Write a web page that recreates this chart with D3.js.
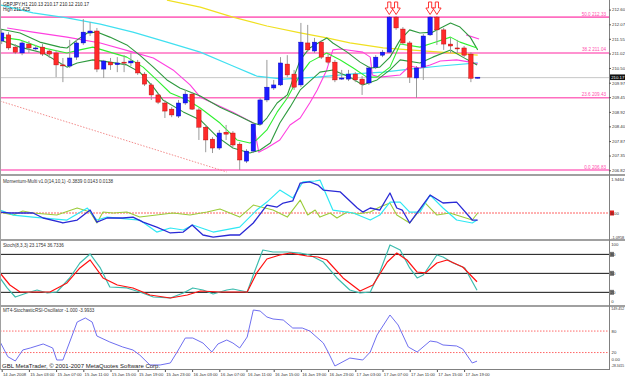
<!DOCTYPE html>
<html>
<head>
<meta charset="utf-8">
<script src="https://cdn.jsdelivr.net/npm/d3@7"></script>
<style>
  body { margin: 0; background: #fff; }
  svg { display: block; }
  text { font-family: "Liberation Sans", Arial, sans-serif; }
</style>
</head>
<body>
<svg id="chart"></svg>
<script>
// GBPJPY H1, bars from 14 Jan 23:00 to 17 Jan 21:00
const timeTickIdx = [0, 4, 8, 12, 16, 20, 24, 28, 32, 36, 40, 44, 48, 52, 56, 60, 64, 68];
const timeLabels = ["14 Jan 2008", "15 Jan 03:00", "15 Jan 07:00", "15 Jan 11:00", "15 Jan 15:00", "15 Jan 19:00",
  "15 Jan 23:00", "16 Jan 03:00", "16 Jan 07:00", "16 Jan 11:00", "16 Jan 15:00", "16 Jan 19:00",
  "16 Jan 23:00", "17 Jan 03:00", "17 Jan 07:00", "17 Jan 11:00", "17 Jan 15:00", "17 Jan 19:00"];

const open = [211.47,211.69,211.25,211.04,211.36,211.20,211.25,211.11,211.04,210.61,
  210.57,210.89,211.40,211.76,211.83,210.46,210.71,210.62,210.71,210.68,
  210.71,210.28,209.89,209.53,209.24,209.02,208.77,209.24,209.56,208.99,
  208.37,207.94,207.62,208.19,208.16,207.76,207.15,207.51,208.48,209.35,
  209.78,209.89,210.64,210.28,209.89,211.40,211.11,211.43,210.89,210.71,
  210.10,210.10,210.28,210.10,209.96,210.53,210.96,211.07,212.33,211.90,
  211.40,210.14,210.53,211.69,212.33,211.87,211.36,211.22,211.22,211.00,
  210.13];
const high = [211.87,211.79,211.36,211.47,211.47,211.33,211.36,211.18,211.15,210.86,
  211.51,211.51,212.26,212.15,211.94,210.79,210.86,210.89,210.96,211.04,
  210.79,210.35,209.96,209.60,209.35,209.09,209.35,209.71,209.63,209.06,
  208.45,208.01,208.27,208.45,208.23,207.83,207.58,208.55,209.42,210.79,
  210.07,210.89,210.96,210.43,212.12,212.05,211.58,211.51,211.00,210.79,
  210.43,210.43,210.35,210.21,210.57,210.96,211.15,212.37,212.37,211.97,
  211.47,210.57,211.72,212.37,212.37,211.94,211.58,211.51,211.29,211.07,
  210.17];
const low = [211.36,211.15,211.00,210.96,211.04,211.11,210.93,210.86,210.17,209.99,
  210.50,210.79,211.33,211.65,210.35,210.14,210.43,210.35,210.35,210.57,
  210.25,209.85,209.35,209.20,208.70,208.73,208.70,209.17,208.99,207.91,
  207.47,207.44,207.55,207.91,207.65,206.83,207.08,207.44,208.45,209.27,
  209.71,209.85,210.17,209.71,209.81,211.07,211.04,210.82,210.64,209.99,
  210.07,210.03,209.99,209.53,209.89,210.46,210.89,211.04,211.87,211.33,
  209.96,209.42,210.07,211.65,211.33,211.15,211.04,211.04,210.89,209.99,
  210.12];
const close = [211.76,211.22,211.07,211.40,211.22,211.22,211.00,211.00,210.61,210.59,
  210.86,211.40,211.79,211.83,210.46,210.75,210.61,210.68,210.70,210.75,
  210.32,209.92,209.53,209.27,208.95,208.81,209.24,209.56,209.02,208.37,
  207.91,207.62,208.16,208.12,207.73,207.19,207.51,208.48,209.35,209.81,
  209.89,210.68,210.25,209.81,211.43,211.15,211.43,210.89,210.71,210.07,
  210.14,210.28,210.07,209.92,210.50,210.89,211.07,212.33,211.94,211.40,
  210.17,210.50,211.65,212.33,211.87,211.36,211.29,211.20,210.96,210.13,
  210.17];

// moving averages / bands, [bar index, price]
const maYellow = [[24.3,212.94],[29.2,212.69],[34.0,212.33],[39.0,212.01],[43.9,211.76],[47.8,211.58],
  [51.2,211.40],[56.1,211.22],[60.0,211.15],[64.5,211.07],[70.0,210.96]];
const maCyan = [[-0.25,212.77],[4.6,212.48],[9.6,212.30],[14.5,212.08],[19.3,211.79],[24.3,211.43],
  [29.2,211.07],[34.0,210.57],[37.5,210.21],[41.4,210.10],[46.4,210.17],[51.2,210.28],[56.1,210.35],
  [60.0,210.46],[64.5,210.57],[70.0,210.68]];
const bandUpper = [[-0.25,211.90],[2.7,211.76],[5.6,211.43],[8.6,211.25],[9.6,211.22],[11.1,211.51],[12.6,211.76],
  [14.0,211.79],[15.9,211.61],[18.4,211.33],[20.3,210.96],[22.3,210.53],[24.3,210.07],[26.2,209.78],
  [29.2,209.49],[32.1,209.09],[34.6,208.81],[37.0,208.52],[38.0,208.45],[39.0,208.70],[40.5,209.24],
  [42.0,209.53],[42.8,210.07],[43.9,210.79],[45.3,211.22],[47.8,211.58],[48.7,211.40],[50.8,211.07],
  [52.7,210.71],[54.2,210.50],[55.6,210.53],[57.1,210.89],[58.6,211.51],[60.0,211.87],[61.5,211.76],
  [63.4,211.79],[66.0,212.12],[67.4,211.97],[68.9,211.61],[70.0,211.15]];
const bandMid = [[-0.25,211.61],[2.7,211.51],[5.6,211.25],[9.6,211.04],[11.5,211.15],[13.4,211.25],[15.9,211.07],
  [18.4,210.89],[20.8,210.53],[22.8,210.07],[24.8,209.60],[27.3,209.35],[29.2,209.06],[32.1,208.52],
  [34.6,207.91],[36.5,207.80],[37.5,207.91],[39.0,208.27],[40.5,208.91],[42.0,209.42],[42.8,209.78],
  [43.9,210.25],[45.3,210.71],[47.8,211.04],[49.8,210.79],[51.7,210.50],[53.7,210.17],[55.2,210.17],
  [57.1,210.53],[58.6,211.36],[61.5,211.25],[63.4,211.40],[66.0,211.61],[67.4,211.43],[69.9,211.22]];
const bandLower = [[-0.25,211.51],[2.7,211.25],[6.1,211.04],[9.6,210.53],[11.1,210.68],[13.4,210.79],[15.9,210.71],
  [18.4,210.61],[20.3,210.35],[22.3,209.81],[23.7,209.35],[26.7,208.92],[29.2,208.63],[31.7,208.02],
  [34.0,207.62],[36.5,207.44],[38.0,207.55],[39.5,207.80],[40.9,208.52],[42.4,209.09],[43.9,209.71],
  [46.8,210.35],[48.7,210.43],[51.2,210.17],[53.1,209.89],[55.2,210.07],[57.1,210.43],[58.6,210.79],
  [61.5,210.68],[63.4,210.89],[66.0,211.15],[67.8,210.89],[69.9,210.61]];
const stopLine = [[0.8,211.94],[4.6,211.79],[9.6,211.61],[14.5,211.40],[19.3,211.07],[22.3,210.86],[25.2,210.43],
  [27.7,209.89],[29.2,209.45],[34.0,208.91],[37.0,208.52],[37.8,207.47],[39.0,207.62],[40.9,207.91],
  [42.4,208.45],[43.9,208.70],[45.3,209.24],[46.4,209.71],[47.8,210.43],[48.7,211.15],[49.8,211.18],
  [53.1,211.07],[54.2,210.89],[54.5,210.25],[55.6,210.17],[58.6,210.25],[60.0,210.57],[61.5,210.50],
  [63.0,210.61],[64.5,210.75],[66.9,210.79],[68.9,210.71],[70.0,210.64]];
const stopLine2 = [[68.3,211.69],[70.2,211.54]];
const trendLine = [[-0.25,209.31],[33.1,206.76]];

const fibLevels = [50.0, 38.2, 23.6, 0.0];
const fibPrices = [212.33, 211.04, 209.43, 206.83];
const arrowBars = [57, 58, 63, 64];
const priceTicks = [206.82, 207.35, 207.87, 208.40, 208.92, 209.45, 209.97, 210.50, 211.02, 211.55, 212.07, 212.60];
const lastPrice = 210.17;

// Momentum-Multi
const momBlue = [[-0.25,0.05],[1.2,0],[2.7,0],[4.6,0],[6.1,-0.27],[8.6,-0.49],[9.0,-0.54],[11.1,-0.38],[13.0,0.16],
  [14.0,-0.49],[15.5,-0.27],[17.8,-0.27],[19.3,-0.22],[20.8,-0.49],[22.8,-0.76],[24.8,-1.08],[26.7,-1.03],
  [28.0,-0.65],[29.6,-1.19],[31.1,-1.30],[33.6,-1.19],[35.0,-1.19],[37.0,-0.54],[39.0,0.43],[40.5,0.32],
  [41.4,0.54],[42.8,0.65],[43.9,1.62],[45.3,1.68],[46.5,1.51],[47.3,1.24],[49.8,1.14],[52.3,0.27],[53.1,0.05],
  [54.2,0.27],[55.6,0.16],[57.1,1.08],[58.1,0.27],[58.9,0.16],[60.0,-0.54],[63.0,0.97],[64.9,0.54],[66.9,0.59],
  [69.2,-0.38],[70.0,-0.38]];
const momCyan = [[-0.25,0.16],[1.7,-0.11],[4.6,-0.22],[9.6,-0.38],[12.6,0.27],[14.0,-0.38],[15.5,-0.22],[20.3,-0.38],
  [22.8,-1.03],[24.8,-0.81],[26.7,-0.92],[28.1,-0.65],[31.1,-1.03],[35.0,-0.76],[37.5,0.16],[39.0,0.59],
  [40.9,1.24],[42.8,0.81],[44.3,1.68],[46.1,1.73],[46.8,1.78],[48.7,0.16],[51.7,0],[54.2,-0.38],[55.6,-0.11],
  [57.1,0.59],[58.6,0.59],[60.0,0.05],[61.5,0.05],[63.0,0.97],[64.9,0.27],[66.9,-0.38],[69.2,-0.54],[69.9,-0.38]];
const momGreen = [[-0.25,0.05],[1.7,-0.11],[3.1,0.11],[4.6,0],[8.1,-0.11],[11.1,0.27],[13.0,0.05],[14.0,-0.54],
  [14.9,0.05],[16.4,0],[18.4,0.05],[20.3,-0.22],[25.2,0],[27.7,-0.11],[30.2,0.05],[32.1,0.22],[35.0,-0.22],
  [37.0,0.43],[39.9,0.16],[42.0,-0.22],[43.9,0.70],[45.0,-0.11],[46.1,0.16],[46.8,-0.22],[48.3,0],[49.3,-0.27],
  [50.8,0.05],[52.3,-0.05],[54.2,0.05],[55.6,0.32],[57.1,0.54],[58.1,-0.11],[60.0,-0.54],[62.3,0.54],
  [64.0,-0.11],[65.9,0],[67.8,-0.22],[69.2,-0.38],[70.0,0]];

// Stochastic (8,3,3)
const stochMain = [[-0.25,42.7],[0.8,26.9],[2.0,12.6],[3.7,19.0],[5.2,23.7],[6.7,19.0],[8.1,20.5],[10.0,42.7],
  [11.5,66.4],[13.0,80.6],[14.5,58.5],[15.9,28.4],[18.4,26.9],[20.3,20.5],[22.3,12.6],[24.8,11.1],[26.7,19.0],
  [28.1,26.9],[29.6,23.7],[31.1,17.4],[33.1,23.7],[34.0,25.3],[36.1,20.5],[37.0,47.4],[38.4,86.9],[39.9,83.7],
  [42.0,83.7],[43.9,82.1],[45.3,79.0],[47.3,67.9],[49.3,42.7],[51.2,23.7],[52.7,19.0],[54.2,20.5],[55.6,52.1],
  [57.1,94.8],[58.6,86.9],[60.0,58.5],[61.1,42.7],[62.0,47.4],[64.0,79.0],[64.9,75.8],[66.4,66.4],[68.1,58.5],
  [69.9,23.2]];
const stochSignal = [[-0.25,50.6],[1.2,31.6],[2.7,20.5],[4.6,20.5],[7.1,20.5],[9.6,34.8],[11.5,58.5],[13.0,71.1],
  [14.9,42.7],[17.0,31.6],[19.3,26.9],[21.8,15.8],[24.8,11.1],[27.3,15.8],[29.2,22.1],[32.1,20.5],[36.1,20.5],
  [37.5,50.6],[39.0,72.7],[40.9,79.0],[42.4,82.1],[44.9,77.4],[46.5,75.8],[47.8,71.1],[50.2,42.7],[52.7,22.1],
  [54.6,31.6],[56.7,67.9],[58.1,82.1],[59.6,71.1],[61.1,52.1],[62.3,50.6],[64.0,66.4],[65.5,71.1],[67.8,60.0],
  [69.9,36.7]];
const stochLevels = [80, 50, 20];

// MT4-StochasticRSI-Oscillator
const oscLine = [[-0.25,50.3],[0.9,8.4],[2.0,-3.6],[3.1,27.1],[4.2,32.7],[6.1,43.9],[7.5,32.7],[8.1,-0.8],[9.0,-0.8],
  [10.0,49.4],[11.1,105.3],[12.3,116.5],[13.3,105.3],[14.0,66.2],[15.9,49.4],[17.8,35.5],[19.3,27.1],[20.3,13.1],
  [21.8,-14.8],[23.3,-14.8],[24.8,-9.2],[25.8,21.5],[27.0,60.6],[28.1,60.6],[29.6,46.6],[30.9,21.5],[31.8,43.9],
  [33.1,55.0],[34.0,46.6],[35.0,32.7],[36.1,63.4],[37.0,138.8],[38.0,136.0],[39.0,119.3],[39.9,113.7],[41.4,110.9],
  [42.8,88.5],[44.2,88.5],[45.3,80.2],[47.3,46.6],[48.0,21.5],[49.0,-17.6],[51.2,4.7],[53.1,-0.8],[54.2,21.5],
  [55.2,69.0],[57.1,124.9],[58.3,96.9],[59.8,35.5],[61.1,21.5],[63.0,52.2],[64.0,49.4],[64.9,41.1],[66.9,38.3],
  [67.8,29.9],[69.2,-9.2],[69.9,-4.0]];
const oscLevels = [80, 20];

const W = 625, H = 377, axisX = 609;
const svg = d3.select("#chart").attr("width", W).attr("height", H);

const x = d3.scaleLinear().domain([0, 70]).range([1.7, 477.7]);
const yMain = d3.scaleLinear().domain([206.83, 212.945]).range([170, 0]);
const yMom = d3.scaleLinear().domain([0, 1.9464]).range([213, 177]);
const yStoch = d3.scaleLinear().domain([0, 100]).range([305, 241.7]);
const yOsc = d3.scaleLinear().domain([0, 80]).range([359.7, 331.06]);

const panels = [[0, 175], [176, 240], [241, 306], [307, 369]];
const defs = svg.append("defs");
panels.forEach((p, i) => {
  defs.append("clipPath").attr("id", "clip" + i)
    .append("rect").attr("x", 0).attr("y", p[0]).attr("width", axisX).attr("height", p[1] - p[0]);
});

const lineOf = (ys) => d3.line().x(d => x(d[0])).y(d => ys(d[1]));
function drawLine(g, data, ys, color, w, dash) {
  g.append("path").datum(data)
    .attr("d", lineOf(ys))
    .attr("fill", "none")
    .attr("stroke", color)
    .attr("stroke-width", w)
    .attr("stroke-dasharray", dash || null)
    .attr("stroke-linejoin", "round");
}

// shrink the font of a label until it ends before the right edge
function fitRight(sel, maxW) {
  sel.each(function () {
    const t = d3.select(this);
    const fs = +t.attr("font-size");
    const len = this.getComputedTextLength();
    if (len > maxW) t.attr("font-size", (fs * maxW / len).toFixed(2));
  });
}

// ---- main panel
const main = svg.append("g").attr("clip-path", "url(#clip0)");

// fibo levels
fibPrices.forEach((p, i) => {
  main.append("line").attr("x1", 0).attr("x2", axisX)
    .attr("y1", yMain(p)).attr("y2", yMain(p))
    .attr("stroke", "#ff6ec0").attr("stroke-width", 1.6);
  main.append("text").attr("x", 606).attr("y", yMain(p) - 1.5)
    .attr("text-anchor", "end").attr("font-size", 4.6).attr("fill", "#ff4fb0")
    .text(fibLevels[i].toFixed(1) + " " + p.toFixed(2));
});

// bid line
main.append("line").attr("x1", 0).attr("x2", axisX)
  .attr("y1", yMain(lastPrice) + 0.5).attr("y2", yMain(lastPrice) + 0.5)
  .attr("stroke", "#b8b8b8").attr("stroke-width", 0.8);

drawLine(main, trendLine, yMain, "#f08080", 0.9, "1.5,1.5");
drawLine(main, maYellow, yMain, "#f0e020", 1.2);
drawLine(main, maCyan, yMain, "#40e0f0", 1.2);
drawLine(main, stopLine, yMain, "#ff40e0", 1.1);
drawLine(main, stopLine2, yMain, "#ff40e0", 1.1);
drawLine(main, bandUpper, yMain, "#2e9a3e", 1.1);
drawLine(main, bandMid, yMain, "#30f030", 1.1);
drawLine(main, bandLower, yMain, "#2e9a3e", 1.1);

// candles
const bars = d3.range(open.length);
main.append("g").selectAll("line").data(bars).join("line")
  .attr("x1", i => x(i)).attr("x2", i => x(i))
  .attr("y1", i => yMain(high[i])).attr("y2", i => yMain(low[i]))
  .attr("stroke", "#9a9a9a").attr("stroke-width", 1);
main.append("g").selectAll("rect").data(bars).join("rect")
  .attr("x", i => x(i) - 2.2)
  .attr("width", 4.4)
  .attr("y", i => yMain(Math.max(open[i], close[i])))
  .attr("height", i => Math.max(1, Math.abs(yMain(open[i]) - yMain(close[i]))))
  .attr("fill", i => close[i] > open[i] ? "#1a1aff" : close[i] < open[i] ? "#ff2a2a" : "#888")
  .attr("stroke", i => close[i] > open[i] ? "#0000b0" : close[i] < open[i] ? "#b00000" : "#888")
  .attr("stroke-width", 0.4);

// fractal arrows
const arrow = "M-1.6,0 L1.6,0 L1.6,6 L4.2,6 L0,12.5 L-4.2,6 L-1.6,6 Z";
main.append("g").selectAll("path").data(arrowBars).join("path")
  .attr("d", arrow)
  .attr("transform", i => `translate(${x(i)},${yMain(high[i]) - 14})`)
  .attr("fill", "#fff").attr("stroke", "#ff2020").attr("stroke-width", 0.9);

svg.append("text").attr("x", 3).attr("y", 5.5).attr("font-size", 4.6).attr("fill", "#222")
  .text("GBPJPY,H1 210.13 210.17 210.12 210.17");
svg.append("text").attr("x", 3).attr("y", 10.5).attr("font-size", 4.6).attr("fill", "#222")
  .text("High 211.425");

// ---- momentum
const mom = svg.append("g").attr("clip-path", "url(#clip1)");
mom.append("line").attr("x1", 0).attr("x2", axisX).attr("y1", yMom(0)).attr("y2", yMom(0))
  .attr("stroke", "#ff5050").attr("stroke-width", 0.9).attr("stroke-dasharray", "2,1");
drawLine(mom, momGreen, yMom, "#9ccc3a", 1.1);
drawLine(mom, momCyan, yMom, "#2ee8f4", 1.2);
drawLine(mom, momBlue, yMom, "#2a2ad6", 1.3);
svg.append("text").attr("x", 3).attr("y", 182.5).attr("font-size", 4.6).attr("fill", "#333")
  .text("Momentum-Multi v1.0(14,10,1) -0.3839 0.0143 0.0138");

// ---- stochastic
const st = svg.append("g").attr("clip-path", "url(#clip2)");
stochLevels.forEach(v => {
  st.append("line").attr("x1", 0).attr("x2", axisX).attr("y1", yStoch(v)).attr("y2", yStoch(v))
    .attr("stroke", "#111").attr("stroke-width", 1);
});
drawLine(st, stochMain, yStoch, "#3cbcae", 1.2);
drawLine(st, stochSignal, yStoch, "#ff1010", 1.2);
svg.append("text").attr("x", 3).attr("y", 247).attr("font-size", 4.6).attr("fill", "#333")
  .text("Stoch(8,3,3) 23.1754 36.7336");

// ---- stochastic RSI oscillator
const os = svg.append("g").attr("clip-path", "url(#clip3)");
oscLevels.forEach(v => {
  os.append("line").attr("x1", 0).attr("x2", axisX).attr("y1", yOsc(v)).attr("y2", yOsc(v))
    .attr("stroke", "#ff4040").attr("stroke-width", 0.8).attr("stroke-dasharray", "1.5,1.5");
});
drawLine(os, oscLine, yOsc, "#6f6ff0", 1);
svg.append("text").attr("x", 3).attr("y", 311.5).attr("font-size", 4.6).attr("fill", "#333")
  .text("MT4-StochasticRSI-Oscillator -1.000 -3.9933");
svg.append("text").attr("x", 2).attr("y", 367.5).attr("font-size", 6).attr("fill", "#222")
  .text("GBL MetaTrader, \u00a9 2001-2007 MetaQuotes Software Corp.");

// ---- separators and frame
[175, 240, 306].forEach(yy => {
  svg.append("line").attr("x1", 0).attr("x2", W).attr("y1", yy).attr("y2", yy)
    .attr("stroke", "#a0a0a0").attr("stroke-width", 2);
});
svg.append("line").attr("x1", 0).attr("x2", axisX).attr("y1", 369.5).attr("y2", 369.5)
  .attr("stroke", "#808080").attr("stroke-width", 1);
svg.append("line").attr("x1", axisX + 0.5).attr("x2", axisX + 0.5).attr("y1", 0).attr("y2", 370)
  .attr("stroke", "#808080").attr("stroke-width", 1);
svg.append("line").attr("x1", 0.5).attr("x2", 0.5).attr("y1", 0).attr("y2", 370)
  .attr("stroke", "#a0a0a0").attr("stroke-width", 1);

// ---- right axes
const axisStyle = g => {
  g.select(".domain").remove();
  g.selectAll("line").attr("stroke", "#555");
  g.selectAll("text").attr("font-size", 4.3).attr("fill", "#333");
};
svg.append("g").attr("transform", `translate(${axisX},0)`)
  .call(d3.axisRight(yMain).tickValues(priceTicks).tickFormat(d3.format(".2f")).tickSize(2).tickPadding(1))
  .call(axisStyle);

// last price tag
svg.append("rect").attr("x", axisX + 1).attr("y", yMain(lastPrice) - 2.7).attr("width", 15).attr("height", 5.6)
  .attr("fill", "#111");
svg.append("text").attr("x", axisX + 2.2).attr("y", yMain(lastPrice) + 1.6).attr("font-size", 4.3)
  .attr("fill", "#fff").text(lastPrice.toFixed(2));

// sub panel edge labels
const edgeLabels = [
  ["1.9464", 180.5], ["-1.0958", 238.5], ["100", 245.5], ["0", 302.5], ["149.452", 310], ["-28.3415", 367]
];
svg.append("g").selectAll("text").data(edgeLabels).join("text")
  .attr("x", axisX + 2.2).attr("y", d => d[1]).attr("font-size", 4.3).attr("fill", "#333").text(d => d[0])
  .call(fitRight, 13);

// boxed level labels
const boxLabels = [
  ["0.00", yMom(0), "#e02020"],
  ["80", yStoch(80), "#777"], ["50", yStoch(50), "#777"], ["20", yStoch(20), "#777"]
];
boxLabels.forEach(d => {
  svg.append("rect").attr("x", axisX + 1).attr("y", d[1] - 2.5).attr("width", 4).attr("height", 5).attr("fill", d[2]);
  svg.append("text").attr("x", axisX + 1.5).attr("y", d[1] + 1.6).attr("font-size", 4.3).attr("fill", "#333").text(d[0]);
});
const oscLabels = [["80", yOsc(80)], ["20", yOsc(20)], ["0.00", yOsc(0)]];
svg.append("g").selectAll("text").data(oscLabels).join("text")
  .attr("x", axisX + 2.5).attr("y", d => d[1] + 1.6).attr("font-size", 4.3).attr("fill", "#333").text(d => d[0]);

// ---- time axis
svg.append("g").attr("transform", "translate(0,370)")
  .call(d3.axisBottom(x).tickValues(timeTickIdx).tickFormat((d, i) => timeLabels[i]).tickSize(2).tickPadding(1))
  .call(g => {
    g.select(".domain").remove();
    g.selectAll("line").attr("stroke", "#555");
    g.selectAll("text").attr("font-size", 4.2).attr("fill", "#333")
      .attr("text-anchor", "start").attr("dx", 0.8);
  });
</script>
</body>
</html>
